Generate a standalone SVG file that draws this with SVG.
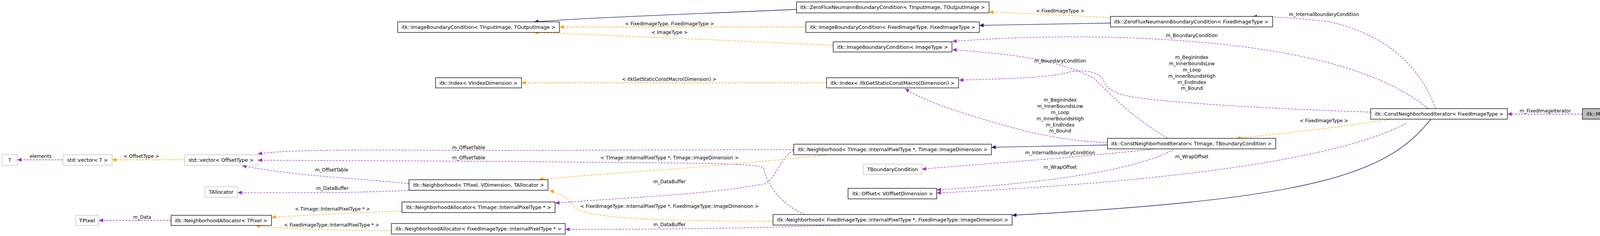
<svg xmlns="http://www.w3.org/2000/svg" width="4768" height="604" viewBox="0 0 4768 604">
<style>
text{font-family:"DejaVu Sans","Liberation Sans",sans-serif;font-size:12px;fill:#000;text-anchor:middle}
.n rect{fill:#fff;stroke:#000;stroke-width:1.3}
.g rect{fill:#fff;stroke:#bfbfbf;stroke-width:1.3}
.s rect{fill:#bfbfbf;stroke:#000;stroke-width:1.3}
.p{fill:none;stroke:#9a32cd;stroke-width:1.3;stroke-dasharray:5,3;marker-end:url(#mp)}
.o{fill:none;stroke:#ffa500;stroke-width:1.3;stroke-dasharray:5,3;marker-end:url(#mo)}
.b{fill:none;stroke:#191970;stroke-width:1.3;marker-end:url(#mb)}
</style>
<defs>
<marker id="mp" markerUnits="userSpaceOnUse" markerWidth="12" markerHeight="10" refX="11" refY="5" orient="auto"><path d="M0,0 L11,5 L0,10 z" fill="#9a32cd"/></marker>
<marker id="mo" markerUnits="userSpaceOnUse" markerWidth="12" markerHeight="10" refX="11" refY="5" orient="auto"><path d="M0,0 L11,5 L0,10 z" fill="#ffa500"/></marker>
<marker id="mb" markerUnits="userSpaceOnUse" markerWidth="12" markerHeight="10" refX="11" refY="5" orient="auto"><path d="M0,0 L11,5 L0,10 z" fill="#191970"/></marker>
</defs>
<rect width="4768" height="604" fill="#fff"/>
<g id="connectors">
<path class="b" d="M2039,24 C1800,35 1500,45 1367,56"/>
<path class="o" d="M2063,69 L1432,69"/>
<path class="o" d="M2133,116 C1900,105 1550,90 1367,83"/>
<path class="o" d="M2116,212 L1335,212"/>
<path class="o" d="M2843,45 C2700,38 2600,33 2532,31"/>
<path class="b" d="M2843,59 L2507,65"/>
<path class="p" d="M3656,278 C3500,150 3200,110 2900,97 C2700,90 2550,98 2438,106"/>
<path class="p" d="M3675,278 C3640,180 3560,90 3400,55 C3300,45 3250,42 3207,42"/>
<path class="p" d="M2989,354 C2900,300 2850,250 2800,200 C2700,150 2600,140 2438,127"/>
<path class="p" d="M3509,287 C3300,280 3000,265 2900,248 C2840,238 2830,220 2825,205 C2815,185 2780,178 2744,183 C2700,195 2650,200 2455,205"/>
<path class="p" d="M2835,365 C2700,360 2600,330 2500,300 C2420,275 2360,255 2317,227"/>
<path class="b" d="M2835,371 L2538,377"/>
<path class="p" d="M2955,381 C2800,400 2500,420 2360,433"/>
<path class="p" d="M3004,383 C2900,440 2650,470 2398,486"/>
<path class="p" d="M3600,316 C3400,420 2900,470 2398,494"/>
<path class="o" d="M3563,305 C3400,330 3250,345 3165,354"/>
<path class="b" d="M3663,305 C3550,450 3350,510 2591,551"/>
<path class="p" d="M4051,292 L3859,292"/>
<path class="p" d="M2032,383 L1300,385 C1000,385 750,380 660,394"/>
<path class="p" d="M2060,549 C1990,520 1960,460 1955,430 C1940,415 1700,418 1300,413 L660,410"/>
<path class="p" d="M2032,385 C2000,400 1990,450 1960,470 C1800,500 1600,505 1421,520"/>
<path class="o" d="M2114,397 C1800,430 1600,440 1380,459"/>
<path class="o" d="M1979,566 C1700,566 1500,560 1470,530 C1455,505 1430,495 1407,487"/>
<path class="p" d="M1047,470 C900,455 750,450 620,424"/>
<path class="p" d="M1055,487 C900,495 700,493 608,493"/>
<path class="o" d="M1029,540 C900,545 800,550 695,556"/>
<path class="o" d="M1002,590 C850,590 700,585 655,577"/>
<path class="p" d="M2150,576 C1900,585 1700,587 1447,587"/>
<path class="p" d="M438,564 L253,564"/>
<path class="o" d="M473,409 L287,409"/>
<path class="p" d="M161,409 L44,409"/>
<text x="1714" y="65">&lt; FixedImageType, FixedImageType &gt;</text>
<text x="1714" y="87">&lt; ImageType &gt;</text>
<text x="1713" y="207">&lt; itkGetStaticConstMacro(Dimension) &gt;</text>
<text x="2714" y="32">&lt; FixedImageType &gt;</text>
<text x="3051" y="95">m_BoundaryCondition</text>
<text x="3389" y="41">m_InternalBoundaryCondition</text>
<text x="2714" y="160">m_BoundaryCondition</text>
<text x="3051" y="151">m_BeginIndex</text>
<text x="3051" y="167">m_InnerBoundsLow</text>
<text x="3051" y="183">m_Loop</text>
<text x="3051" y="199">m_InnerBoundsHigh</text>
<text x="3051" y="215">m_EndIndex</text>
<text x="3051" y="230">m_Bound</text>
<text x="2714" y="260">m_BeginIndex</text>
<text x="2714" y="276">m_InnerBoundsLow</text>
<text x="2714" y="292">m_Loop</text>
<text x="2714" y="308">m_InnerBoundsHigh</text>
<text x="2714" y="324">m_EndIndex</text>
<text x="2714" y="339">m_Bound</text>
<text x="2714" y="395">m_InternalBoundaryCondition</text>
<text x="2714" y="432">m_WrapOffset</text>
<text x="3051" y="405">m_WrapOffset</text>
<text x="3389" y="313">&lt; FixedImageType &gt;</text>
<text x="3956" y="288">m_FixedImageIterator</text>
<text x="1200" y="382">m_OffsetTable</text>
<text x="1200" y="408">m_OffsetTable</text>
<text x="1714" y="469">m_DataBuffer</text>
<text x="1714" y="408">&lt; TImage::InternalPixelType *, TImage::ImageDimension &gt;</text>
<text x="1714" y="532">&lt; FixedImageType::InternalPixelType *, FixedImageType::ImageDimension &gt;</text>
<text x="1714" y="579">m_DataBuffer</text>
<text x="849" y="439">m_OffsetTable</text>
<text x="851" y="486">m_DataBuffer</text>
<text x="851" y="539">&lt; TImage::InternalPixelType * &gt;</text>
<text x="849" y="580">&lt; FixedImageType::InternalPixelType * &gt;</text>
<text x="364" y="560">m_Data</text>
<text x="362" y="404">&lt; OffsetType &gt;</text>
<text x="104" y="404">elements</text>
</g>
<g id="n_T" class="g"><rect x="6" y="396" width="38" height="27"/><text x="25" y="414">T</text></g>
<g id="n_vecT" class="g"><rect x="161" y="396" width="126" height="27"/><text x="224" y="414" textLength="104" lengthAdjust="spacingAndGlyphs">std::vector&lt; T &gt;</text></g>
<g id="n_vecOff" class="g"><rect x="473" y="396" width="187" height="27"/><text x="566" y="414" textLength="167" lengthAdjust="spacingAndGlyphs">std::vector&lt; OffsetType &gt;</text></g>
<g id="n_TAlloc" class="g"><rect x="525" y="478" width="83" height="27"/><text x="566" y="496" textLength="63" lengthAdjust="spacingAndGlyphs">TAllocator</text></g>
<g id="n_TPixel" class="g"><rect x="194" y="551" width="59" height="26"/><text x="223" y="569" textLength="41" lengthAdjust="spacingAndGlyphs">TPixel</text></g>
<g id="n_NA_TPixel" class="n"><rect x="438" y="551" width="257" height="26"/><text x="566" y="569" textLength="237" lengthAdjust="spacingAndGlyphs">itk::NeighborhoodAllocator&lt; TPixel &gt;</text></g>
<g id="n_IBC_TIn" class="n"><rect x="1018" y="56" width="414" height="27"/><text x="1225" y="74" textLength="394" lengthAdjust="spacingAndGlyphs">itk::ImageBoundaryCondition&lt; TInputImage, TOutputImage &gt;</text></g>
<g id="n_Index_V" class="n"><rect x="1115" y="199" width="220" height="26"/><text x="1225" y="217" textLength="200" lengthAdjust="spacingAndGlyphs">itk::Index&lt; VIndexDimension &gt;</text></g>
<g id="n_Nb_TPixel" class="n"><rect x="1047" y="460" width="356" height="27"/><text x="1225" y="478" textLength="336" lengthAdjust="spacingAndGlyphs">itk::Neighborhood&lt; TPixel, VDimension, TAllocator &gt;</text></g>
<g id="n_NA_TImage" class="n"><rect x="1029" y="517" width="392" height="27"/><text x="1225" y="535" textLength="372" lengthAdjust="spacingAndGlyphs">itk::NeighborhoodAllocator&lt; TImage::InternalPixelType * &gt;</text></g>
<g id="n_NA_Fixed" class="n"><rect x="1002" y="572" width="445" height="27"/><text x="1225" y="590" textLength="425" lengthAdjust="spacingAndGlyphs">itk::NeighborhoodAllocator&lt; FixedImageType::InternalPixelType * &gt;</text></g>
<g id="n_ZF_TIn" class="n"><rect x="2039" y="5" width="493" height="28"/><text x="2285" y="23" textLength="473" lengthAdjust="spacingAndGlyphs">itk::ZeroFluxNeumannBoundaryCondition&lt; TInputImage, TOutputImage &gt;</text></g>
<g id="n_IBC_Fixed" class="n"><rect x="2063" y="56" width="444" height="27"/><text x="2285" y="74" textLength="424" lengthAdjust="spacingAndGlyphs">itk::ImageBoundaryCondition&lt; FixedImageType, FixedImageType &gt;</text></g>
<g id="n_IBC_Img" class="n"><rect x="2133" y="107" width="304" height="26"/><text x="2285" y="125" textLength="284" lengthAdjust="spacingAndGlyphs">itk::ImageBoundaryCondition&lt; ImageType &gt;</text></g>
<g id="n_Index_Get" class="n"><rect x="2116" y="199" width="338" height="26"/><text x="2285" y="217" textLength="318" lengthAdjust="spacingAndGlyphs">itk::Index&lt; itkGetStaticConstMacro(Dimension) &gt;</text></g>
<g id="n_Nb_TImage" class="n"><rect x="2032" y="369" width="506" height="27"/><text x="2285" y="387" textLength="486" lengthAdjust="spacingAndGlyphs">itk::Neighborhood&lt; TImage::InternalPixelType *, TImage::ImageDimension &gt;</text></g>
<g id="n_TBC" class="g"><rect x="2210" y="420" width="150" height="26"/><text x="2285" y="438" textLength="130" lengthAdjust="spacingAndGlyphs">TBoundaryCondition</text></g>
<g id="n_Offset" class="n"><rect x="2171" y="482" width="227" height="27"/><text x="2285" y="500" textLength="207" lengthAdjust="spacingAndGlyphs">itk::Offset&lt; VOffsetDimension &gt;</text></g>
<g id="n_Nb_Fixed" class="n"><rect x="1979" y="549" width="612" height="27"/><text x="2285" y="567" textLength="592" lengthAdjust="spacingAndGlyphs">itk::Neighborhood&lt; FixedImageType::InternalPixelType *, FixedImageType::ImageDimension &gt;</text></g>
<g id="n_ZF_Fixed" class="n"><rect x="2843" y="42" width="415" height="27"/><text x="3050" y="60" textLength="395" lengthAdjust="spacingAndGlyphs">itk::ZeroFluxNeumannBoundaryCondition&lt; FixedImageType &gt;</text></g>
<g id="n_CNI_T" class="n"><rect x="2835" y="354" width="431" height="27"/><text x="3050" y="372" textLength="411" lengthAdjust="spacingAndGlyphs">itk::ConstNeighborhoodIterator&lt; TImage, TBoundaryCondition &gt;</text></g>
<g id="n_CNI_Fixed" class="n"><rect x="3509" y="278" width="350" height="27"/><text x="3684" y="296" textLength="330" lengthAdjust="spacingAndGlyphs">itk::ConstNeighborhoodIterator&lt; FixedImageType &gt;</text></g>
<g id="n_Global" class="s"><rect x="4051" y="278" width="712" height="27"/><text x="4407" y="296" textLength="692" lengthAdjust="spacingAndGlyphs">itk::MeanSquareRegistrationFunction&lt; TFixedImage, TMovingImage, TDisplacementField &gt;::GlobalDataStruct</text></g>
</svg>
